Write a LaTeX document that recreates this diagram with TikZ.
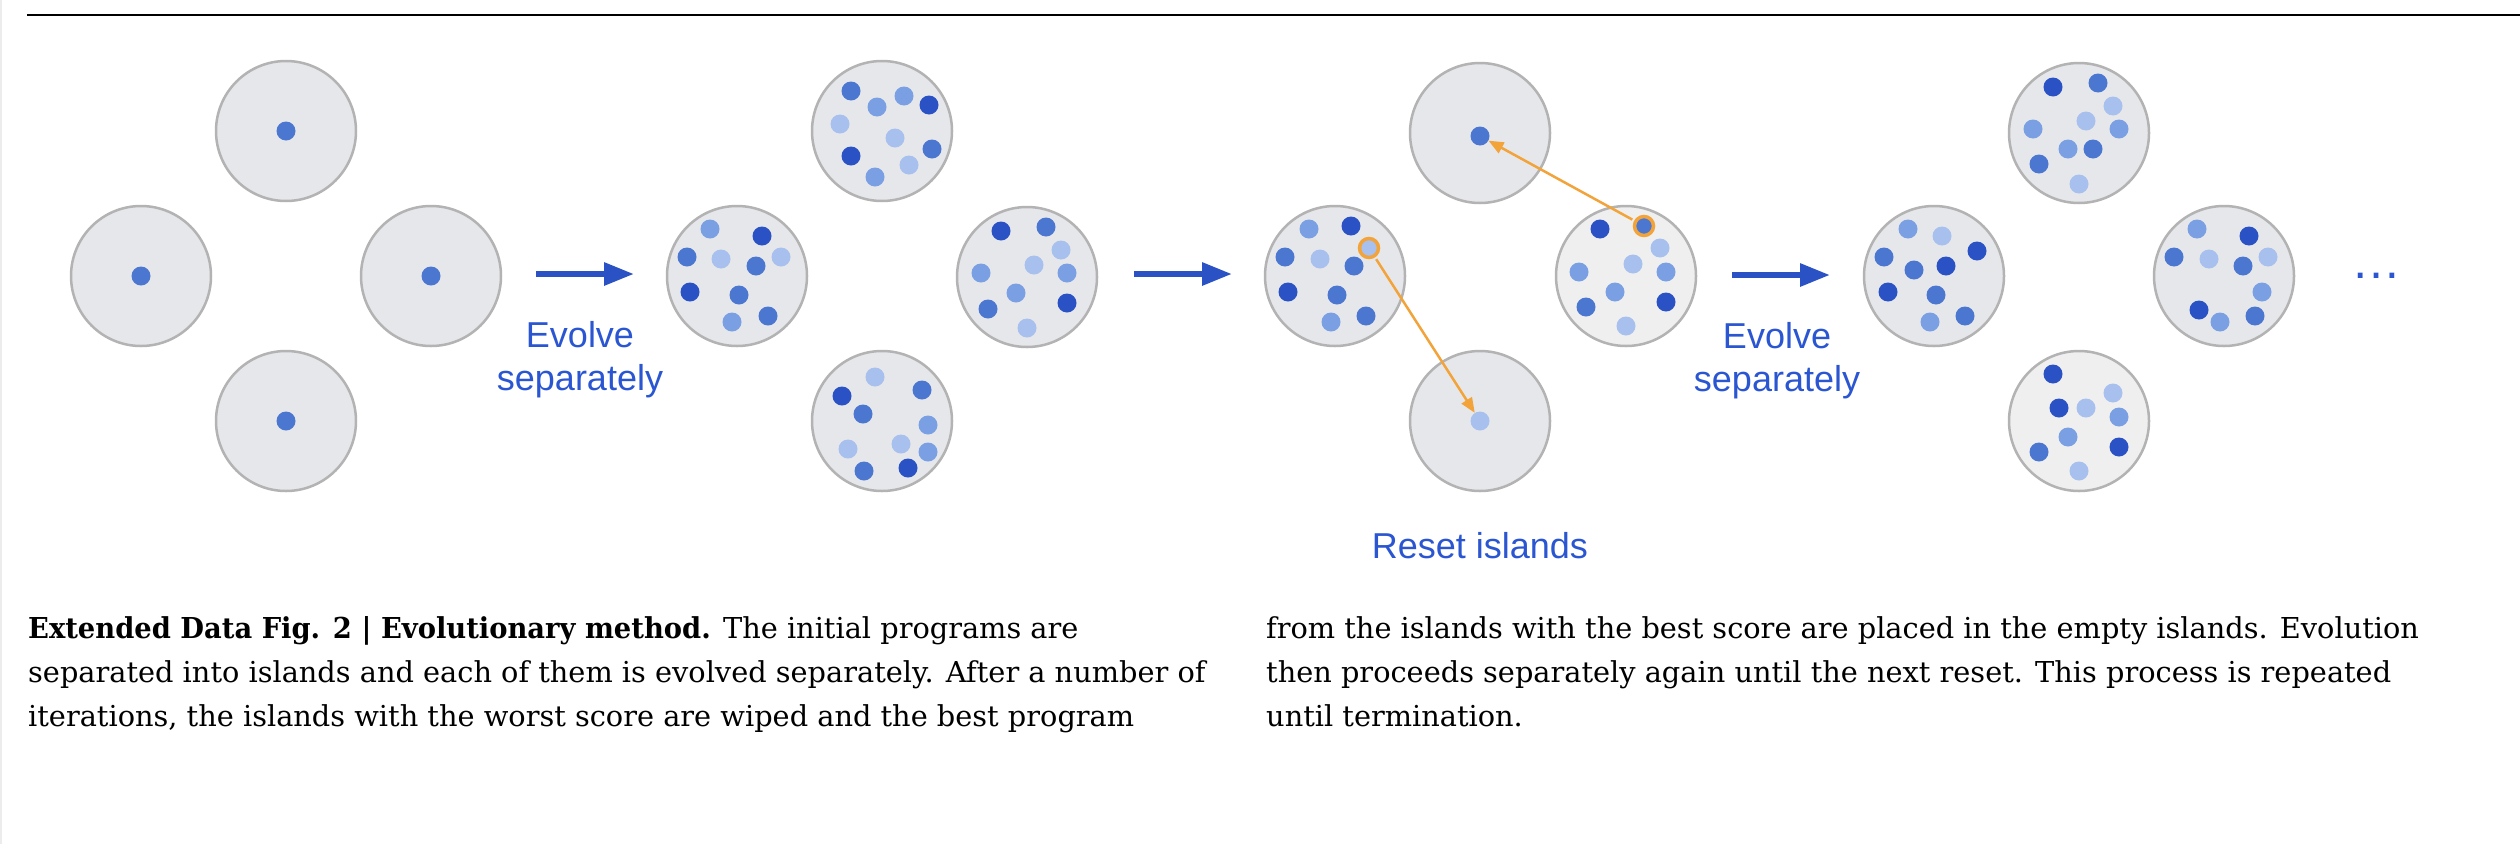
\documentclass[tikz,border=0pt]{standalone}
\usepackage{fontspec}
\setmainfont{DejaVu Serif}[BoldFeatures={FakeStretch=0.95}]
\newfontfamily\sansfont{Liberation Sans}
\usetikzlibrary{arrows.meta}
\definecolor{dkblue}{HTML}{2A52C4}
\definecolor{mdblue}{HTML}{4B77D1}
\definecolor{ltblue}{HTML}{7A9FE3}
\definecolor{paleblue}{HTML}{A8C0EE}
\definecolor{isle}{HTML}{E6E7EB}
\definecolor{isleb}{HTML}{EFEFEF}
\definecolor{rim}{HTML}{B3B3B3}
\definecolor{txtblue}{HTML}{2B56D2}
\definecolor{best}{HTML}{F2A33A}

\begin{document}
\begin{tikzpicture}[x=1pt,y=-1pt,
  island/.style={circle,draw=rim,fill=isle,line width=2.5pt,minimum size=140pt,inner sep=0pt},
  dot/.style={circle,minimum size=19pt,inner sep=0pt},
  ring/.style={draw=best,line width=3.5pt},
  evolve/.style={draw=dkblue,line width=6pt,-{Triangle[length=30pt,width=22pt]}},
  reset/.style={draw=best,line width=2.5pt,shorten <=2pt,-{Triangle[length=15pt,width=12pt]}},
  lbl/.style={text=txtblue,font=\sansfont\fontsize{36}{43}\selectfont,align=center,inner sep=0pt},
  captext/.style={anchor=north west,inner sep=0pt,align=left,font=\fontsize{28.8}{44}\selectfont}]
  \useasboundingbox (0,0) rectangle (2520,844);
  \draw[gray!15,line width=1.5pt] (0.75,0) -- (0.75,844);
  \draw[line width=1.6pt] (27,15) -- (2520,15);

  % initial islands
  \node[island] (a-t) at (286,131) {};
  \node[island] (a-l) at (141,276) {};
  \node[island] (a-r) at (431,276) {};
  \node[island] (a-b) at (286,421) {};
  \foreach \n in {a-t,a-l,a-r,a-b} \node[dot,fill=mdblue] (\n-1) at (\n) {};

  \coordinate (e1s) at (536,274); \coordinate (e1e) at (634,274);
  \draw[evolve] (e1s) -- (e1e);
  \node[lbl,anchor=north] (ev1) at (580,321) {Evolve\\separately};

  % after evolution
  \node[island] (b-t) at (882,131) {};
  \node[island] (b-l) at (737,276) {};
  \node[island] (b-r) at (1027,277) {};
  \node[island] (b-b) at (882,421) {};
  \foreach \dx/\dy/\c [count=\i] in {-31/-40/mdblue,-5/-24/ltblue,22/-35/ltblue,47/-26/dkblue,-42/-7/paleblue,
      13/7/paleblue,-31/25/dkblue,50/18/mdblue,27/34/paleblue,-7/46/ltblue}
    \node[dot,fill=\c] (b-t-\i) at ([shift={(\dx,\dy)}]b-t.center) {};
  \foreach \dx/\dy/\c [count=\i] in {-27/-47/ltblue,25/-40/dkblue,-50/-19/mdblue,-16/-17/paleblue,19/-10/mdblue,
      44/-19/paleblue,-47/16/dkblue,2/19/mdblue,-5/46/ltblue,31/40/mdblue}
    \node[dot,fill=\c] (b-l-\i) at ([shift={(\dx,\dy)}]b-l.center) {};
  \foreach \dx/\dy/\c [count=\i] in {-26/-46/dkblue,19/-50/mdblue,34/-27/paleblue,7/-12/paleblue,-46/-4/ltblue,
      40/-4/ltblue,-11/16/ltblue,40/26/dkblue,-39/32/mdblue,0/51/paleblue}
    \node[dot,fill=\c] (b-r-\i) at ([shift={(\dx,\dy)}]b-r.center) {};
  \foreach \dx/\dy/\c [count=\i] in {-7/-44/paleblue,-40/-25/dkblue,40/-31/mdblue,-19/-7/mdblue,46/4/ltblue,
      -34/28/paleblue,19/23/paleblue,46/31/ltblue,-18/50/mdblue,26/47/dkblue}
    \node[dot,fill=\c] (b-b-\i) at ([shift={(\dx,\dy)}]b-b.center) {};

  \coordinate (e2s) at (1134,274); \coordinate (e2e) at (1232,274);
  \draw[evolve] (e2s) -- (e2e);

  % reset of the worst islands
  \node[island] (c-t) at (1480,133) {};
  \node[island] (c-l) at (1335,276) {};
  \node[island,fill=isleb] (c-r) at (1626,276) {};
  \node[island] (c-b) at (1480,421) {};
  \node[dot,fill=mdblue] (c-t-1) at ([shift={(0,3)}]c-t.center) {};
  \node[dot,fill=paleblue] (c-b-1) at (c-b) {};
  \foreach \dx/\dy/\c [count=\i] in {-26/-47/ltblue,16/-50/dkblue,-50/-19/mdblue,-15/-17/paleblue,19/-10/mdblue,
      -47/16/dkblue,2/19/mdblue,-4/46/ltblue,31/40/mdblue}
    \node[dot,fill=\c] (c-l-\i) at ([shift={(\dx,\dy)}]c-l.center) {};
  \foreach \dx/\dy/\c [count=\i] in {-26/-47/dkblue,34/-28/paleblue,7/-12/paleblue,-47/-4/ltblue,40/-4/ltblue,
      -11/16/ltblue,40/26/dkblue,-40/31/mdblue,0/50/paleblue}
    \node[dot,fill=\c] (c-r-\i) at ([shift={(\dx,\dy)}]c-r.center) {};
  \node[dot,ring,fill=paleblue] (c-l-best) at ([shift={(34,-28)}]c-l.center) {};
  \node[dot,ring,fill=mdblue] (c-r-best) at ([shift={(18,-50)}]c-r.center) {};
  \draw[reset] (c-l-best) -- (c-b-1);
  \draw[reset] (c-r-best) -- (c-t-1);
  \node[lbl] (rs) at (1480,546) {Reset islands};

  \coordinate (e3s) at (1732,275); \coordinate (e3e) at (1830,275);
  \draw[evolve] (e3s) -- (e3e);
  \node[lbl,anchor=north] (ev2) at (1777,322) {Evolve\\separately};

  % next round
  \node[island] (d-t) at (2079,133) {};
  \node[island] (d-l) at (1934,276) {};
  \node[island] (d-r) at (2224,276) {};
  \node[island,fill=isleb] (d-b) at (2079,421) {};
  \foreach \dx/\dy/\c [count=\i] in {-26/-46/dkblue,19/-50/mdblue,34/-27/paleblue,7/-12/paleblue,-46/-4/ltblue,
      40/-4/ltblue,-11/16/ltblue,14/16/mdblue,-40/31/mdblue,0/51/paleblue}
    \node[dot,fill=\c] (d-t-\i) at ([shift={(\dx,\dy)}]d-t.center) {};
  \foreach \dx/\dy/\c [count=\i] in {-26/-47/ltblue,8/-40/paleblue,43/-25/dkblue,-50/-19/mdblue,-20/-6/mdblue,
      12/-10/dkblue,-46/16/dkblue,2/19/mdblue,-4/46/ltblue,31/40/mdblue}
    \node[dot,fill=\c] (d-l-\i) at ([shift={(\dx,\dy)}]d-l.center) {};
  \foreach \dx/\dy/\c [count=\i] in {-27/-47/ltblue,25/-40/dkblue,-50/-19/mdblue,-15/-17/paleblue,19/-10/mdblue,
      44/-19/paleblue,38/16/ltblue,-25/34/dkblue,-4/46/ltblue,31/40/mdblue}
    \node[dot,fill=\c] (d-r-\i) at ([shift={(\dx,\dy)}]d-r.center) {};
  \foreach \dx/\dy/\c [count=\i] in {-26/-47/dkblue,34/-28/paleblue,-20/-13/dkblue,7/-13/paleblue,40/-4/ltblue,
      -11/16/ltblue,40/26/dkblue,-40/31/mdblue,0/50/paleblue}
    \node[dot,fill=\c] (d-b-\i) at ([shift={(\dx,\dy)}]d-b.center) {};
  \node[text=txtblue,font=\sansfont\fontsize{50}{50}\selectfont,inner sep=0pt] (more) at (2376,276) {\ldots};

  % caption
  \node[captext] (capl) at (28,616) {\textbf{Extended Data Fig. 2 | Evolutionary method.} The initial programs are\\
    separated into islands and each of them is evolved separately. After a number of\\
    iterations, the islands with the worst score are wiped and the best program};
  \node[captext] (capr) at (1266,616) {from the islands with the best score are placed in the empty islands. Evolution\\
    then proceeds separately again until the next reset. This process is repeated\\
    until termination.};
\end{tikzpicture}
\end{document}
